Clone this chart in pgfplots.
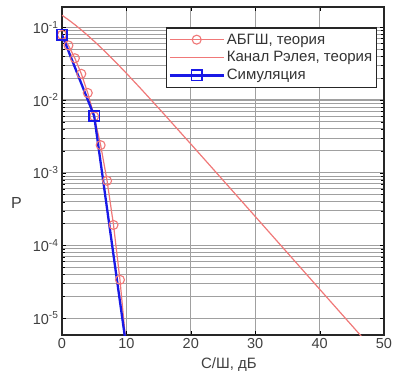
\documentclass[border=0pt]{standalone}
\usepackage{fontspec}
\setmainfont{Liberation Sans}
\usepackage{pgfplots}
\pgfplotsset{compat=1.18}
\definecolor{myred}{RGB}{240,120,120}
\definecolor{myblue}{RGB}{25,25,230}
\definecolor{gridgray}{RGB}{160,160,160}
\begin{document}
\begin{tikzpicture}
\begin{axis}[
  name=a,
  scale only axis, width=322pt, height=328pt,
  ymode=log,
  xmin=0, xmax=50, ymin=5.85e-6, ymax=0.19,
  xtick={0,10,20,30,40,50},
  ytick={1e-5,1e-4,1e-3,1e-2,1e-1},
  yticklabels={10\textsuperscript{-5},10\textsuperscript{-4},10\textsuperscript{-3},10\textsuperscript{-2},10\textsuperscript{-1}},
  minor x tick num=0,
  grid=both,
  major grid style={gridgray, line width=1pt},
  minor grid style={gridgray, line width=0.9pt},
  axis line style={black!85, line width=1.2pt},
  tick style={black},
  /pgf/number format/assume math mode=true,
  tick label style={font=\fontsize{14.5}{16}\selectfont, text=black!75},
  clip=true,
  legend style={at={(rel axis cs:1,1)}, anchor=north east, xshift=-7pt, yshift=-20pt,
    draw=black!85, line width=1.5pt, font=\fontsize{15}{17}\selectfont, text=black!80,
    cells={anchor=west}, row sep=2pt, inner xsep=2pt, inner ysep=4pt},
  legend image code/.code={\draw[mark repeat=2,mark phase=2,#1] plot coordinates {(0pt,0pt) (27pt,0pt) (54pt,0pt)};},
]
\addplot[myred, line width=1.2pt, mark=o, mark size=4.5pt, mark options={solid, line width=1.1pt}] coordinates {
(0,0.0786) (1,0.0563) (2,0.0375) (3,0.0229) (4,0.0125) (5,0.00595) (6,0.00239) (7,0.000773) (8,0.000191) (9,3.36e-5) (10,3.87e-6)
};
\addlegendentry{АБГШ, теория}
\addplot[myred, line width=1.2pt] coordinates {
(0,0.1464) (1,0.1267) (2,0.1085) (3,0.0919) (4,0.0771) (5,0.0642) (6,0.0530) (7,0.0435) (8,0.0355) (9,0.0288) (10,0.02327) (12,0.01507) (14,0.00966) (16,0.00617) (18,0.00391) (20,0.002481) (25,7.89e-4) (30,2.50e-4) (35,7.91e-5) (40,2.50e-5) (45,7.91e-6) (50,2.50e-6)
};
\addlegendentry{Канал Рэлея, теория}
\addplot[myblue, line width=2.3pt, mark=square, mark size=5.2pt, mark options={solid, line width=1.6pt}] coordinates {
(0,0.079) (5,0.006) (10,3.9e-6)
};
\addlegendentry{Симуляция}
\end{axis}
\node[font=\fontsize{16}{18}\selectfont, text=black!75] at ([shift={(-45.5pt,0.402*328pt)}]a.south west) {P};
\node[font=\fontsize{15}{17}\selectfont, text=black!75] at ([shift={(167pt,-30pt)}]a.south west) {С/Ш, дБ};
\pgfresetboundingbox
\path[use as bounding box] ([shift={(-62pt,-41pt)}]a.south west) rectangle ([shift={(10pt,7pt)}]a.north east);
\end{tikzpicture}
\end{document}
